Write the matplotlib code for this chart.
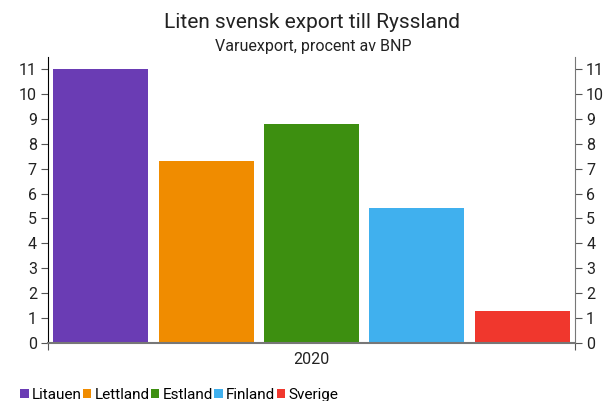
import matplotlib
matplotlib.use("Agg")
import matplotlib.pyplot as plt
from matplotlib.patches import Patch

countries = ["Litauen", "Lettland", "Estland", "Finland", "Sverige"]
values = [11.0, 7.3, 8.8, 5.4, 1.3]
colors = ["#6a3cb4", "#f08c00", "#3d8f10", "#40b0ee", "#f0372d"]
year_label = "2020"
yticks = list(range(0, 12))

plt.rcParams['font.family'] = ['Roboto', 'DejaVu Sans']

fig = plt.figure(figsize=(6.12, 4.01), dpi=100)
ax = fig.add_axes([48/612, 1-343/401, (575-48)/612, (343-57)/401])

x = list(range(len(countries)))
ax.bar(x, values, width=0.9, color=colors)
ax.set_xlim(-0.5, len(countries)-0.5)
ax.set_ylim(0, 11.48)

ax.set_yticks(yticks)
ax.tick_params(axis='y', which='both', labelsize=11.5, colors='#222222', length=5, direction='out',
               left=True, right=True, labelleft=True, labelright=True, pad=3)
ax.tick_params(axis='y', color='#555555')
ax.set_xticks([-0.5, len(countries)-0.5])
ax.set_xticklabels(["", ""])
ax.tick_params(axis='x', length=5, color='#555555')

ax.spines['top'].set_visible(False)
ax.spines['left'].set_color('black')
ax.spines['right'].set_color('#777777')
ax.spines['bottom'].set_color('#777777')
ax.spines['bottom'].set_linewidth(1.5)

fig.text(311/612, 1-360/401, year_label, ha='center', va='center', fontsize=11.5, color='#222222')

fig.text(312/612, 1-22/401, "Liten svensk export till Ryssland", ha='center', va='center', fontsize=15, color='#222222')
fig.text(313/612, 1-46/401, "Varuexport, procent av BNP", ha='center', va='center', fontsize=11.5, color='#222222')

handles = [Patch(facecolor=c, edgecolor='none') for c in colors]
fig.legend(handles, countries, loc='lower left', bbox_to_anchor=(14/612, -7/401), ncol=5, frameon=False,
           fontsize=11, handlelength=0.55, handleheight=0.55, handletextpad=0.2, columnspacing=0.1,
           borderaxespad=0)

fig.savefig("out.png", dpi=100)
